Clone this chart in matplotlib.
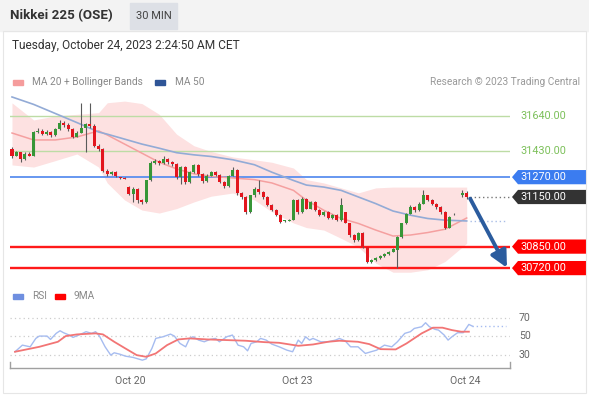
import numpy as np
import matplotlib
matplotlib.use("Agg")
import matplotlib.pyplot as plt
import matplotlib.transforms as mtransforms
from matplotlib.patches import Rectangle, Polygon

plt.rcParams['font.family'] = ['Roboto', 'DejaVu Sans']

nan = np.nan

# 30 min candles (index 103 is a session gap)
opens = [31440, 31400, 31420, 31380, 31410, 31400, 31545, 31550, 31530, 31545,
         31525, 31560, 31600, 31585, 31560, 31515, 31540, 31570, 31590, 31580,
         31460, 31440, 31310, 31290, 31300, 31270, 31266, 31210, 31170, 31200,
         31130, 31120, 31250, 31356, 31370, 31355, 31380, 31360, 31350, 31270,
         31330, 31240, 31300, 31345, 31290, 31245, 31280, 31300, 31285, 31240,
         31215, 31280, 31315, 31174, 31150, 31060, 31160, 31200, 31180, 31150,
         31100, 31070, 31040, 31005, 31008, 31012, 31130, 31060, 31140, 31080,
         31120, 31070, 31040, 31060, 31020, 31040, 31010, 31060, 30990, 30920,
         30890, 30935, 30845, 30755, 30770, 30780, 30795, 30805, 30820, 30830,
         30910, 30990, 31050, 31090, 31070, 31110, 31160, 31130, 31110, 31090,
         31060, 30965, 31045, nan, 31160, 31175]
closes = [31400, 31420, 31380, 31410, 31400, 31545, 31550, 31530, 31545, 31525,
          31560, 31600, 31585, 31560, 31515, 31540, 31570, 31590, 31580, 31460,
          31440, 31310, 31290, 31300, 31280, 31265, 31262, 31170, 31200, 31130,
          31120, 31250, 31356, 31370, 31355, 31380, 31360, 31350, 31270, 31330,
          31240, 31300, 31345, 31290, 31245, 31280, 31300, 31285, 31240, 31215,
          31280, 31315, 31174, 31150, 31060, 31160, 31200, 31180, 31150, 31100,
          31070, 31040, 31000, 31010, 31012, 31130, 31060, 31140, 31080, 31120,
          31070, 31040, 31060, 31020, 31040, 31010, 31100, 30995, 30920, 30890,
          30935, 30845, 30755, 30770, 30780, 30795, 30805, 30820, 30835, 30910,
          30990, 31050, 31090, 31070, 31110, 31160, 31130, 31110, 31090, 31060,
          30965, 31030, 31050, nan, 31175, 31150]
highs = [31450, 31430, 31425, 31420, 31420, 31550, 31565, 31560, 31555, 31550,
         31570, 31615, 31610, 31595, 31565, 31550, 31720, 31600, 31720, 31590,
         31470, 31445, 31320, 31310, 31305, 31272, 31268, 31215, 31210, 31205,
         31140, 31255, 31365, 31380, 31375, 31400, 31385, 31365, 31355, 31340,
         31335, 31310, 31350, 31350, 31295, 31290, 31310, 31305, 31290, 31245,
         31285, 31330, 31320, 31180, 31155, 31165, 31210, 31253, 31185, 31155,
         31105, 31075, 31045, 31012, 31015, 31135, 31135, 31150, 31145, 31125,
         31125, 31075, 31065, 31065, 31045, 31045, 31144, 31060, 30995, 30925,
         30940, 30940, 30850, 30775, 30785, 30800, 30810, 30825, 30840, 30915,
         30995, 31055, 31100, 31095, 31120, 31192, 31165, 31135, 31115, 31095,
         31065, 31035, 31055, nan, 31192, 31185]
lows = [31385, 31395, 31362, 31375, 31395, 31395, 31540, 31525, 31525, 31515,
        31520, 31555, 31575, 31550, 31505, 31510, 31535, 31420, 31570, 31455,
        31430, 31300, 31280, 31285, 31270, 31260, 31258, 31165, 31120, 31114,
        31110, 31115, 31245, 31350, 31345, 31350, 31350, 31340, 31260, 31230,
        31230, 31235, 31295, 31280, 31235, 31240, 31275, 31280, 31235, 31205,
        31210, 31275, 31165, 31140, 31050, 31055, 31150, 31170, 31140, 31095,
        31065, 31035, 30990, 31000, 31004, 31008, 31050, 31055, 31075, 31075,
        31065, 31035, 31035, 31015, 31015, 31005, 31005, 30990, 30910, 30880,
        30885, 30840, 30750, 30750, 30765, 30775, 30790, 30800, 30815, 30720,
        30905, 30985, 31045, 31060, 31065, 31105, 31125, 31100, 31080, 31050,
        30955, 30960, 31040, nan, 31150, 31140]

# indicator lines
ind_idx = [0, 5, 10, 15, 20, 22, 26, 30, 34, 38, 42, 46, 51, 56, 60, 65, 68,
           72, 76, 80, 84, 88, 92, 96, 100, 105]
bb_upper = [31719, 31616, 31640, 31650, 31660, 31720, 31730, 31715, 31650, 31530,
            31460, 31425, 31392, 31375, 31360, 31325, 31255, 31235, 31205, 31175,
            31205, 31210, 31210, 31210, 31210, 31210]
bb_lower = [31344, 31331, 31370, 31410, 31331, 31235, 31132, 31071, 31053, 31080,
            31120, 31155, 31174, 31132, 31060, 30993, 30965, 30950, 30900, 30847,
            30750, 30695, 30695, 30710, 30760, 30870]
ma20 = [31537, 31495, 31495, 31513, 31550, 31525, 31470, 31415, 31360, 31320,
        31290, 31275, 31265, 31255, 31235, 31190, 31130, 31070, 31020, 30990,
        30950, 30914, 30920, 30935, 30955, 31023]
ma50 = [31755, 31710, 31655, 31600, 31543, 31530, 31500, 31470, 31445, 31418,
        31405, 31395, 31375, 31345, 31300, 31250, 31222, 31210, 31190, 31150,
        31110, 31065, 31040, 31020, 31010, 31005]

rsi_idx = [0.7, 2.4, 4.2, 5.5, 6.3, 8.1, 8.9, 10.2, 11.1, 11.9, 13.2, 14.1, 15.4,
           16.3, 17.1, 18.4, 19.3, 20.2, 21.5, 22.8, 23.6, 24.9, 26.2, 28, 30.1,
           31, 32.3, 33.2, 34.9, 36.6, 37.5, 38.8, 40.1, 41, 41.8, 43.1, 44.4,
           45.7, 47, 47.9, 49.6, 50.9, 52.2, 53.5, 54.4, 55.2, 56.5, 57.4, 58.7,
           60, 61.7, 63.5, 64.8, 66.1, 66.9, 67.8, 68.7, 69.5, 71.3, 73, 74.7,
           75.6, 76.9, 78.2, 79.9, 81.6, 82.9, 84.2, 86, 87.7, 89, 90.7, 92,
           92.9, 94.6, 95.5, 96.4, 97.7, 98.5, 99.8, 100.7, 101.6, 102.9, 104.2,
           105.5, 106.3]
rsi = [33.5, 40.6, 38.8, 47.8, 50.3, 50.3, 46.7, 53.2, 56.0, 53.9, 51.4, 48.9,
       51.4, 53.2, 55.0, 53.2, 55.0, 50.3, 38.8, 29.9, 32.4, 30.9, 28.8, 27.4,
       24.5, 25.9, 37.0, 47.8, 49.6, 52.4, 50.3, 42.4, 38.8, 47.8, 49.6, 46.0,
       44.2, 46.7, 47.8, 44.2, 49.6, 51.4, 40.6, 38.8, 34.5, 42.4, 44.2, 47.8,
       46.0, 41.7, 38.8, 35.2, 33.5, 46.0, 42.4, 49.6, 46.0, 47.8, 44.2, 44.2,
       46.0, 47.8, 45.3, 38.8, 38.8, 31.7, 33.5, 35.2, 40.6, 38.8, 44.2, 53.2,
       55.0, 58.5, 60.3, 64.6, 60.3, 57.5, 56.7, 51.4, 46.0, 49.6, 53.9, 53.9,
       62.8, 61.0]
ma9_idx = [0.7, 6.3, 10.6, 12.4, 15, 19.3, 21, 23.6, 26.2, 28.8, 31, 33.2, 35.8,
           38.4, 41, 45.2, 49.6, 54, 58.3, 61.7, 66.1, 69.5, 73, 75.6, 79.9,
           82.5, 85.1, 88.6, 91.1, 94.6, 97.2, 99.4, 101.6, 103.7, 105.5]
ma9 = [33.5, 38.8, 44.2, 50.3, 52.1, 53.2, 52.1, 44.2, 37.0, 29.9, 28.1, 31.7,
       40.6, 46.7, 47.8, 46.7, 46.0, 45.3, 43.8, 43.1, 39.9, 41.3, 44.2, 45.3,
       44.2, 41.7, 36.3, 36.0, 42.4, 53.2, 59.3, 59.3, 56.7, 55.0, 55.0]

green_levels = [31640, 31430]
blue_level = 31270
last_price = 31150
red_levels = [30850, 30720]
tick_pos = [27.3, 65.8, 104.6]
tick_labels = ['Oct 20', 'Oct 23', 'Oct 24']

W, H = 589, 397
fig = plt.figure(figsize=(W / 100, H / 100), dpi=100)
fig.patch.set_facecolor('white')


def fx(x):
    return x / W


def fy(y):
    return 1 - y / H


# header strip
fig.patches.append(Rectangle((0, fy(31)), 1, 31 / H, transform=fig.transFigure,
                             color='#f3f3f3', zorder=0))
fig.patches.append(Rectangle((fx(130), fy(29)), 47 / W, 26 / H, transform=fig.transFigure,
                             color='#dde0e6', zorder=1))
fig.patches.append(Rectangle((fx(3), fy(393)), 583 / W, 362 / H, transform=fig.transFigure,
                             fill=False, ec='#e6e6e6', lw=0.8, zorder=0))
fig.text(fx(10), fy(16), 'Nikkei 225 (OSE)', fontsize=9.6, fontweight='bold',
         color='#333333', va='center')
fig.text(fx(153.5), fy(16), '30 MIN', fontsize=8, color='#444444', va='center', ha='center')
fig.text(fx(12), fy(45), 'Tuesday, October 24, 2023 2:24:50 AM CET', fontsize=8.6,
         color='#333333', va='center')

# legends
fig.patches.append(Rectangle((fx(13), fy(84.5)), 10 / W, 5 / H, transform=fig.transFigure,
                             color='#f59c9c'))
fig.text(fx(32), fy(82), 'MA 20 + Bollinger Bands', fontsize=7.3, color='#888888', va='center')
fig.patches.append(Rectangle((fx(155), fy(84.5)), 10 / W, 5 / H, transform=fig.transFigure,
                             color='#2f5597'))
fig.text(fx(175), fy(82), 'MA 50', fontsize=7.3, color='#888888', va='center')
fig.text(fx(580), fy(82), 'Research © 2023 Trading Central', fontsize=7.3,
         color='#999999', va='center', ha='right')
fig.patches.append(Rectangle((fx(13), fy(298.5)), 10 / W, 5 / H, transform=fig.transFigure,
                             color='#6f8fe0'))
fig.text(fx(32), fy(296), 'RSI', fontsize=7.3, color='#888888', va='center')
fig.patches.append(Rectangle((fx(55), fy(298.5)), 10 / W, 5 / H, transform=fig.transFigure,
                             color='#ff0000'))
fig.text(fx(73), fy(296), '9MA', fontsize=7.3, color='#888888', va='center')

xlim = (-0.46, 115.0)

# main price panel
ax = fig.add_axes([fx(10), fy(280), 500 / W, 188 / H])
ax.set_xlim(*xlim)
ax.set_ylim(30648, 31785)
ax.axis('off')

ax.fill_between(ind_idx, bb_lower, bb_upper, color='#fde1e1', lw=0, zorder=1)
ax.plot(ind_idx, ma20, color='#f5a0a0', lw=1.1, zorder=2)
ax.plot(ind_idx, ma50, color='#93abd6', lw=1.2, zorder=2)

for lv in green_levels:
    ax.axhline(lv, color='#bddca5', lw=1, zorder=1.5)
ax.axhline(blue_level, color='#5b8fef', lw=1.3, zorder=1.5)
for lv in red_levels:
    ax.axhline(lv, color='#ff1a1a', lw=1.7, zorder=1.5)

for i, (o, h, l, c) in enumerate(zip(opens, highs, lows, closes)):
    if np.isnan(o):
        continue
    col = '#379637' if c >= o else '#e3161e'
    body = max(abs(c - o), 5)
    base = min(o, c) if abs(c - o) >= 5 else (o + c) / 2 - 2.5
    ax.vlines(i, l, h, color='#5a5a5a', lw=0.8, zorder=3)
    ax.bar(i, body, bottom=base, width=0.7, color=col, lw=0, zorder=4)

last_i = 105
ax.plot([last_i + 0.8, 115], [last_price, last_price], ls=(0, (1, 2)), color='#777777',
        lw=1, zorder=2)
ax.plot([last_i + 0.8, 114], [ma50[-1], ma50[-1]], ls=(0, (1, 2)), color='#a9bde6',
        lw=1, zorder=2)

ax.annotate('', xy=(114.3, 30722), xytext=(105.8, 31140),
            arrowprops=dict(arrowstyle='-|>,head_width=0.5,head_length=1.0',
                            color='#2b5c9e', lw=2.8, shrinkA=0, shrinkB=0), zorder=6)

# price labels on the right
tr = mtransforms.blended_transform_factory(fig.transFigure, ax.transData)
hh = 43


def tag(price, face):
    pts = [(fx(512), price), (fx(518), price + hh), (fx(586), price + hh),
           (fx(586), price - hh), (fx(518), price - hh)]
    ax.add_patch(Polygon(pts, closed=True, transform=tr, facecolor=face, lw=0,
                         clip_on=False, zorder=7))
    ax.text(fx(520), price, f'{price:.2f}', transform=tr, color='white', fontsize=7.8,
            va='center', ha='left', clip_on=False, zorder=8)


for lv in green_levels:
    ax.text(fx(520), lv, f'{lv:.2f}', transform=tr, color='#7cc05a', fontsize=7.8,
            va='center', ha='left', clip_on=False)
tag(blue_level, '#3b7cf0')
tag(last_price, '#333333')
for lv in red_levels:
    tag(lv, '#ff0000')

# RSI panel
ax2 = fig.add_axes([fx(10), fy(368), 500 / W, 63 / H])
ax2.set_xlim(*xlim)
ax2.set_ylim(16.1, 83.6)
for s in ['top', 'right', 'left']:
    ax2.spines[s].set_visible(False)
ax2.spines['bottom'].set_color('#a0a0a0')
ax2.spines['bottom'].set_linewidth(1)
ax2.set_yticks([])
ax2.set_xticks(tick_pos)
ax2.set_xticklabels(tick_labels, fontsize=7.6, color='#666666')
ax2.tick_params(axis='x', length=0, pad=6)
for lv in [70, 50, 30]:
    ax2.axhline(lv, color='#cccccc', ls=(0, (1, 2.5)), lw=0.9, zorder=1)
    ax2.text(fx(519), lv, str(lv), transform=mtransforms.blended_transform_factory(
        fig.transFigure, ax2.transData), fontsize=7.6, color='#666666', va='center')
ax2.plot(rsi_idx, rsi, color='#a6bcf0', lw=1, zorder=3)
ax2.plot([rsi_idx[-1], 114], [rsi[-1], rsi[-1]], color='#a6bcf0', ls=(0, (1, 2)),
         lw=1, zorder=3)
ax2.plot(ma9_idx, ma9, color='#f27575', lw=1.3, zorder=4)
for xe in xlim:
    ax2.plot([xe, xe], [16.1, 22], color='#a0a0a0', lw=1, clip_on=False)

fig.savefig('out.png', dpi=100)
